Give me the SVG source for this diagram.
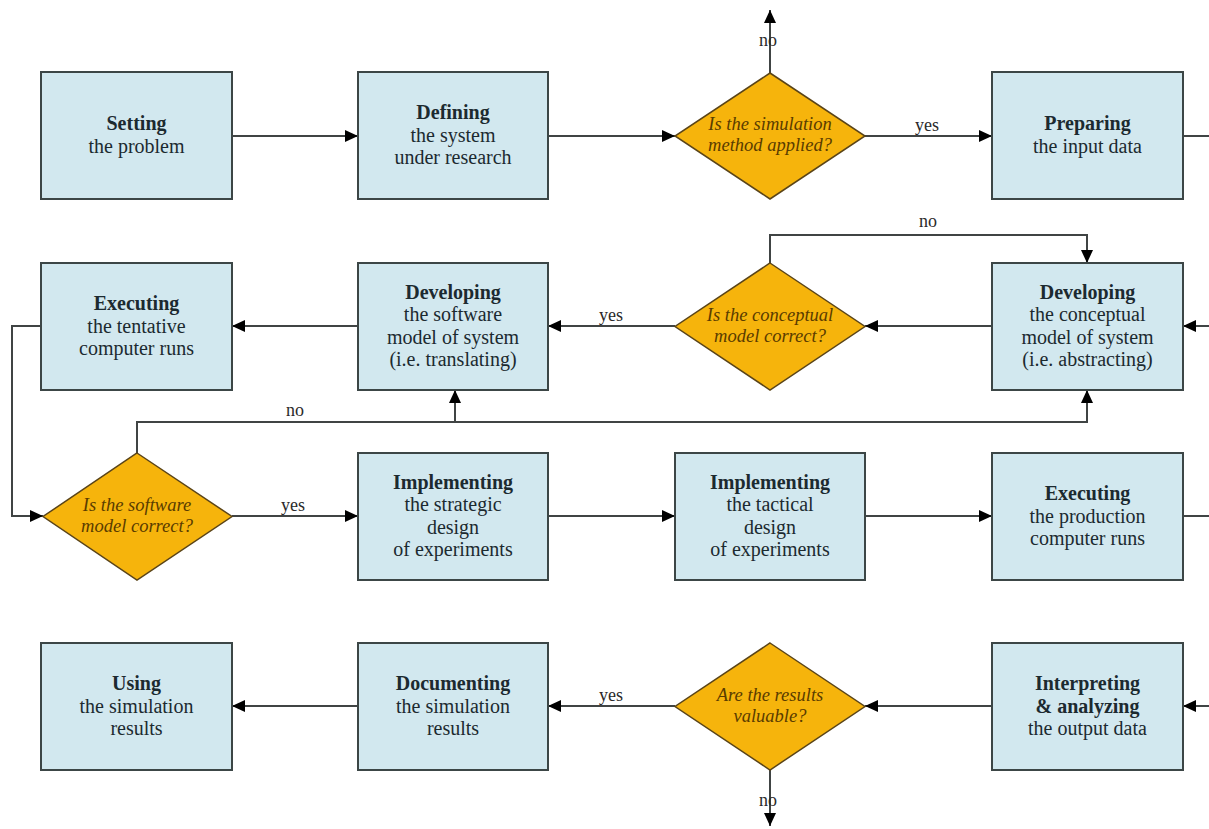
<svg xmlns="http://www.w3.org/2000/svg" width="1209" height="829" viewBox="0 0 1209 829">
<style>
  .box { fill: #d2e8ef; stroke: #3c4646; stroke-width: 2; }
  .dia { fill: #f6b40c; stroke: #5a4418; stroke-width: 1.5; }
  .t { font-family: "Liberation Serif", "Times New Roman", serif; font-size: 20px; fill: #1c2a30; text-anchor: middle; }
  .b { font-weight: bold; }
  .q { font-family: "Liberation Serif", "Times New Roman", serif; font-size: 18.5px; font-style: italic; fill: #5a3c00; text-anchor: middle; }
  .lbl { font-family: "Liberation Serif", "Times New Roman", serif; font-size: 18px; fill: #2a2a2a; text-anchor: middle; }
  .c { fill: none; stroke: #404444; stroke-width: 2; }
  .ca { fill: none; stroke: #404444; stroke-width: 2; marker-end: url(#arr); }
</style>
<defs>
  <marker id="arr" markerUnits="userSpaceOnUse" markerWidth="14" markerHeight="12" refX="13" refY="6" orient="auto">
    <path d="M0,0 L13,6 L0,12 z" fill="#000"/>
  </marker>
</defs>
<rect width="1209" height="829" fill="#ffffff"/>

<g id="connectors">
  <path class="ca" d="M232,136 H358"/>
  <path class="ca" d="M548,136 H675"/>
  <path class="ca" d="M770,73 V10"/>
  <path class="ca" d="M865,136 H992"/>
  <path class="c" d="M1183,136 H1209"/>
  <path class="ca" d="M1209,326 H1183"/>
  <path class="ca" d="M992,326 H865"/>
  <path class="ca" d="M675,326 H548"/>
  <path class="ca" d="M770,263 V235 H1087 V263"/>
  <path class="ca" d="M358,326 H232"/>
  <path class="ca" d="M41,326 H12 V516 H43"/>
  <path class="ca" d="M137,453 V422 H1087 V390"/>
  <path class="ca" d="M455,422 V390"/>
  <path class="ca" d="M232,516 H358"/>
  <path class="ca" d="M548,516 H675"/>
  <path class="ca" d="M865,516 H992"/>
  <path class="c" d="M1183,516 H1209"/>
  <path class="ca" d="M1209,706 H1183"/>
  <path class="ca" d="M992,706 H865"/>
  <path class="ca" d="M675,706 H548"/>
  <path class="ca" d="M358,706 H232"/>
  <path class="ca" d="M770,770 V826"/>
  <text class="lbl" x="768" y="46">no</text>
  <text class="lbl" x="927" y="131">yes</text>
  <text class="lbl" x="928" y="227">no</text>
  <text class="lbl" x="611" y="321">yes</text>
  <text class="lbl" x="295" y="416">no</text>
  <text class="lbl" x="293" y="511">yes</text>
  <text class="lbl" x="611" y="701">yes</text>
  <text class="lbl" x="768" y="806">no</text>
</g>

<g id="n-setting">
  <rect class="box" x="41" y="72" width="191" height="127"/>
  <text class="t b" x="136.5" y="130.4">Setting</text>
  <text class="t" x="136.5" y="152.6">the problem</text>
</g>
<g id="n-defining">
  <rect class="box" x="358" y="72" width="190" height="127"/>
  <text class="t b" x="453" y="119.3">Defining</text>
  <text class="t" x="453" y="141.5">the system</text>
  <text class="t" x="453" y="163.7">under research</text>
</g>
<g id="n-simapplied">
  <polygon class="dia" points="770,73 865,136 770,199 675,136"/>
  <text class="q" x="770" y="130.3">Is the simulation</text>
  <text class="q" x="770" y="150.8">method applied?</text>
</g>
<g id="n-preparing">
  <rect class="box" x="992" y="72" width="191" height="127"/>
  <text class="t b" x="1087.5" y="130.4">Preparing</text>
  <text class="t" x="1087.5" y="152.6">the input data</text>
</g>

<g id="n-exec-tentative">
  <rect class="box" x="41" y="263" width="191" height="127"/>
  <text class="t b" x="136.5" y="310.3">Executing</text>
  <text class="t" x="136.5" y="332.5">the tentative</text>
  <text class="t" x="136.5" y="354.7">computer runs</text>
</g>
<g id="n-dev-software">
  <rect class="box" x="358" y="263" width="190" height="127"/>
  <text class="t b" x="453" y="299.2">Developing</text>
  <text class="t" x="453" y="321.4">the software</text>
  <text class="t" x="453" y="343.6">model of system</text>
  <text class="t" x="453" y="365.8">(i.e. translating)</text>
</g>
<g id="n-concept-correct">
  <polygon class="dia" points="770,263 865,326.5 770,390 675,326.5"/>
  <text class="q" x="770" y="321.3">Is the conceptual</text>
  <text class="q" x="770" y="341.8">model correct?</text>
</g>
<g id="n-dev-conceptual">
  <rect class="box" x="992" y="263" width="191" height="127"/>
  <text class="t b" x="1087.5" y="299.2">Developing</text>
  <text class="t" x="1087.5" y="321.4">the conceptual</text>
  <text class="t" x="1087.5" y="343.6">model of system</text>
  <text class="t" x="1087.5" y="365.8">(i.e. abstracting)</text>
</g>

<g id="n-software-correct">
  <polygon class="dia" points="137,453 232,516.5 137,580 43,516.5"/>
  <text class="q" x="137" y="511.3">Is the software</text>
  <text class="q" x="137" y="531.8">model correct?</text>
</g>
<g id="n-impl-strategic">
  <rect class="box" x="358" y="453" width="190" height="127"/>
  <text class="t b" x="453" y="489.2">Implementing</text>
  <text class="t" x="453" y="511.4">the strategic</text>
  <text class="t" x="453" y="533.6">design</text>
  <text class="t" x="453" y="555.8">of experiments</text>
</g>
<g id="n-impl-tactical">
  <rect class="box" x="675" y="453" width="190" height="127"/>
  <text class="t b" x="770" y="489.2">Implementing</text>
  <text class="t" x="770" y="511.4">the tactical</text>
  <text class="t" x="770" y="533.6">design</text>
  <text class="t" x="770" y="555.8">of experiments</text>
</g>
<g id="n-exec-production">
  <rect class="box" x="992" y="453" width="191" height="127"/>
  <text class="t b" x="1087.5" y="500.3">Executing</text>
  <text class="t" x="1087.5" y="522.5">the production</text>
  <text class="t" x="1087.5" y="544.7">computer runs</text>
</g>

<g id="n-using">
  <rect class="box" x="41" y="643" width="191" height="127"/>
  <text class="t b" x="136.5" y="690.3">Using</text>
  <text class="t" x="136.5" y="712.5">the simulation</text>
  <text class="t" x="136.5" y="734.7">results</text>
</g>
<g id="n-documenting">
  <rect class="box" x="358" y="643" width="190" height="127"/>
  <text class="t b" x="453" y="690.3">Documenting</text>
  <text class="t" x="453" y="712.5">the simulation</text>
  <text class="t" x="453" y="734.7">results</text>
</g>
<g id="n-valuable">
  <polygon class="dia" points="770,643 865,706.5 770,770 675,706.5"/>
  <text class="q" x="770" y="701.3">Are the results</text>
  <text class="q" x="770" y="721.8">valuable?</text>
</g>
<g id="n-interpreting">
  <rect class="box" x="992" y="643" width="191" height="127"/>
  <text class="t b" x="1087.5" y="690.3">Interpreting</text>
  <text class="t b" x="1087.5" y="712.5">&amp; analyzing</text>
  <text class="t" x="1087.5" y="734.7">the output data</text>
</g>
</svg>
